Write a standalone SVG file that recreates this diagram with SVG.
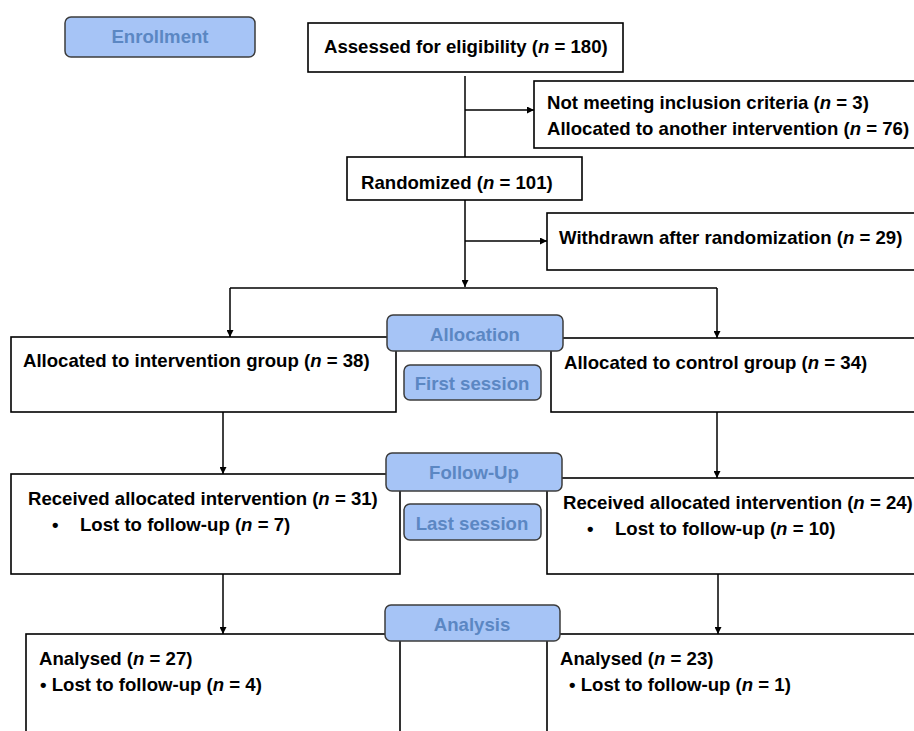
<svg xmlns="http://www.w3.org/2000/svg" width="914" height="731" viewBox="0 0 914 731">
<style>
.box{fill:#fff;stroke:#000;stroke-width:1.6}
.pill{fill:#a6c4f6;stroke:#3c3c3c;stroke-width:1.5}
.t{font-family:"Liberation Sans",Arial,sans-serif;font-weight:bold;font-size:18.6px;fill:#000}
.pt{font-family:"Liberation Sans",Arial,sans-serif;font-weight:bold;font-size:18.6px;fill:#5b87c3;text-anchor:middle}
.ln{fill:none;stroke:#000;stroke-width:1.5}
</style>
<defs>
<marker id="ah" viewBox="0 0 10 10" refX="10" refY="5" markerWidth="7" markerHeight="7" markerUnits="userSpaceOnUse" orient="auto">
<path d="M0,0 L10,5 L0,10 z" fill="#000"/>
</marker>
</defs>
<rect width="914" height="731" fill="#fff"/>
<g id="connectors">
<path class="ln" d="M465,76 V157"/>
<path class="ln" d="M465,110 H534" marker-end="url(#ah)"/>
<path class="ln" d="M465,200 V287" marker-end="url(#ah)"/>
<path class="ln" d="M465,241 H547" marker-end="url(#ah)"/>
<path class="ln" d="M230,288 H717"/>
<path class="ln" d="M230,288 V337" marker-end="url(#ah)"/>
<path class="ln" d="M717,288 V338" marker-end="url(#ah)"/>
<path class="ln" d="M223,412 V474" marker-end="url(#ah)"/>
<path class="ln" d="M717,412 V478" marker-end="url(#ah)"/>
<path class="ln" d="M223,574 V634" marker-end="url(#ah)"/>
<path class="ln" d="M718,574 V634" marker-end="url(#ah)"/>
</g>
<g id="assessed">
<rect class="box" x="308" y="23" width="315" height="49"/>
<text class="t" x="324" y="53">Assessed for eligibility (<tspan font-style="italic">n</tspan> = 180)</text>
</g>
<g id="excluded">
<rect class="box" x="534" y="81" width="390" height="67"/>
<text class="t" x="547" y="109">Not meeting inclusion criteria (<tspan font-style="italic">n</tspan> = 3)</text>
<text class="t" x="547" y="135">Allocated to another intervention (<tspan font-style="italic">n</tspan> = 76)</text>
</g>
<g id="randomized">
<rect class="box" x="347" y="157" width="235" height="43"/>
<text class="t" x="361" y="189">Randomized (<tspan font-style="italic">n</tspan> = 101)</text>
</g>
<g id="withdrawn">
<rect class="box" x="547" y="213" width="377" height="57"/>
<text class="t" x="559" y="244">Withdrawn after randomization (<tspan font-style="italic">n</tspan> = 29)</text>
</g>
<g id="alloc-int">
<rect class="box" x="11" y="337" width="385" height="75"/>
<text class="t" x="23" y="367">Allocated to intervention group (<tspan font-style="italic">n</tspan> = 38)</text>
</g>
<g id="alloc-ctrl">
<rect class="box" x="551" y="338" width="373" height="74"/>
<text class="t" x="564" y="369">Allocated to control group (<tspan font-style="italic">n</tspan> = 34)</text>
</g>
<g id="recv-int">
<rect class="box" x="11" y="474" width="389" height="100"/>
<text class="t" x="28" y="505">Received allocated intervention (<tspan font-style="italic">n</tspan> = 31)</text>
<text class="t" x="52" y="531" font-size="15">•</text>
<text class="t" x="80" y="531">Lost to follow-up (<tspan font-style="italic">n</tspan> = 7)</text>
</g>
<g id="recv-ctrl">
<rect class="box" x="547" y="478" width="377" height="96"/>
<text class="t" x="563" y="509">Received allocated intervention (<tspan font-style="italic">n</tspan> = 24)</text>
<text class="t" x="587" y="535" font-size="15">•</text>
<text class="t" x="615" y="535">Lost to follow-up (<tspan font-style="italic">n</tspan> = 10)</text>
</g>
<g id="anal-int">
<rect class="box" x="26" y="634" width="374" height="110"/>
<text class="t" x="39" y="665">Analysed (<tspan font-style="italic">n</tspan> = 27)</text>
<text class="t" x="40" y="691">• Lost to follow-up (<tspan font-style="italic">n</tspan> = 4)</text>
</g>
<g id="anal-ctrl">
<rect class="box" x="547" y="634" width="377" height="110"/>
<text class="t" x="560" y="665">Analysed (<tspan font-style="italic">n</tspan> = 23)</text>
<text class="t" x="569" y="691">• Lost to follow-up (<tspan font-style="italic">n</tspan> = 1)</text>
</g>
<g id="enrollment">
<rect class="pill" x="65" y="17" width="190" height="40" rx="6"/>
<text class="pt" x="160" y="43">Enrollment</text>
</g>
<g id="allocation">
<rect class="pill" x="387" y="315" width="176" height="36" rx="6"/>
<text class="pt" x="475" y="341">Allocation</text>
</g>
<g id="first-session">
<rect class="pill" x="404" y="365" width="137" height="35" rx="6"/>
<text class="pt" x="472" y="390">First session</text>
</g>
<g id="follow-up">
<rect class="pill" x="386" y="453" width="176" height="38" rx="6"/>
<text class="pt" x="474" y="479">Follow-Up</text>
</g>
<g id="last-session">
<rect class="pill" x="404" y="504" width="137" height="36" rx="6"/>
<text class="pt" x="472" y="530">Last session</text>
</g>
<g id="analysis">
<rect class="pill" x="385" y="605" width="175" height="36" rx="6"/>
<text class="pt" x="472" y="631">Analysis</text>
</g>
</svg>
